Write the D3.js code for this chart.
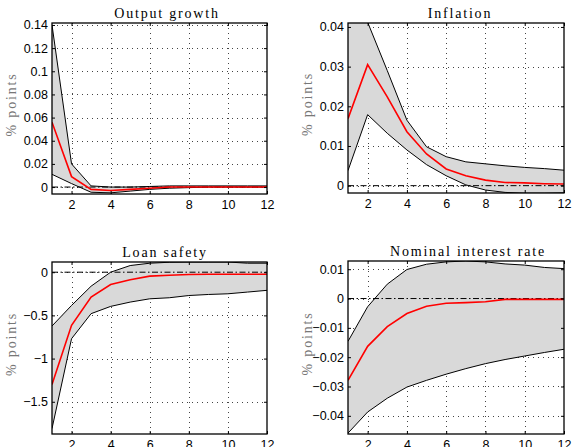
<!DOCTYPE html>
<html><head><meta charset="utf-8">
<script src="https://cdn.jsdelivr.net/npm/d3@7"></script>
<style>body{margin:0;background:#fff}svg{display:block}</style>
</head><body>
<svg id="c" width="573" height="447"></svg>
<script>
const horizon = [1,2,3,4,5,6,7,8,9,10,11,12];
const xTicks = [2,4,6,8,10,12];

const titles = ["Output growth","Inflation","Loan safety","Nominal interest rate"];

// Output growth
const outMean  = [0.056,0.009,-0.002,-0.003,-0.002,-0.001,0,0,0,0,0,0];
const outUpper = [0.140,0.020,0.001,0,0,0.0005,0.001,0.001,0.001,0.001,0.001,0.001];
const outLower = [0.011,0.003,-0.0045,-0.005,-0.0035,-0.002,-0.001,-0.0005,0,0,0,0];
const outTicks = [0,0.02,0.04,0.06,0.08,0.1,0.12,0.14];
const outTickLabels = ["0","0.02","0.04","0.06","0.08","0.1","0.12","0.14"];

// Inflation
const infMean  = [0.0169,0.0305,0.0224,0.0136,0.008,0.0042,0.0025,0.0014,0.0008,0.0007,0.0005,0.0004];
const infUpper = [0.052,0.0412,0.029,0.0165,0.0098,0.0073,0.006,0.0055,0.005,0.0046,0.0043,0.0039];
const infLower = [0.0038,0.0179,0.0132,0.009,0.0053,0.0025,0.0002,-0.0011,-0.0017,-0.0019,-0.0019,-0.0018];
const infTicks = [0,0.01,0.02,0.03,0.04];
const infTickLabels = ["0","0.01","0.02","0.03","0.04"];

// Loan safety
const loanMean  = [-1.30,-0.615,-0.288,-0.142,-0.088,-0.046,-0.035,-0.027,-0.023,-0.023,-0.023,-0.023];
const loanUpper = [-0.623,-0.385,-0.162,0,0.077,0.104,0.115,0.118,0.118,0.118,0.104,0.104];
const loanLower = [-1.81,-0.77,-0.48,-0.396,-0.346,-0.308,-0.296,-0.27,-0.258,-0.25,-0.23,-0.21];
const loanTicks = [-1.5,-1,-0.5,0];
const loanTickLabels = ["\u22121.5","\u22121","\u22120.5","0"];

// Nominal interest rate
const rateMean  = [-0.0279,-0.0163,-0.0096,-0.0051,-0.0026,-0.0016,-0.0014,-0.0011,-0.0003,-0.0003,-0.0003,-0.0003];
const rateUpper = [-0.0146,-0.0028,0.0049,0.0099,0.0117,0.0125,0.0128,0.0125,0.0118,0.0114,0.0106,0.0102];
const rateLower = [-0.0459,-0.0387,-0.034,-0.0302,-0.0279,-0.0258,-0.0239,-0.0222,-0.0208,-0.0196,-0.0184,-0.0173];
const rateTicks = [-0.04,-0.03,-0.02,-0.01,0,0.01];
const rateTickLabels = ["\u22120.04","\u22120.03","\u22120.02","\u22120.01","0","0.01"];

const panels = [
  {title:titles[0], mean:outMean, up:outUpper, lo:outLower, ticks:outTicks, labels:outTickLabels, dom:[-0.006,0.1417],
   box:{l:52,r:267,t:23,b:194}, tx:167},
  {title:titles[1], mean:infMean, up:infUpper, lo:infLower, ticks:infTicks, labels:infTickLabels, dom:[-0.00185,0.041],
   box:{l:348,r:564,t:23,b:193}, tx:460},
  {title:titles[2], mean:loanMean, up:loanUpper, lo:loanLower, ticks:loanTicks, labels:loanTickLabels, dom:[-1.873,0.118],
   box:{l:52,r:267,t:262,b:434}, tx:165},
  {title:titles[3], mean:rateMean, up:rateUpper, lo:rateLower, ticks:rateTicks, labels:rateTickLabels, dom:[-0.0462,0.0128],
   box:{l:348,r:564,t:261,b:434}, tx:468}
];

const svg = d3.select("#c");
panels.forEach((p,i)=>{
  const B = p.box;
  const x = d3.scaleLinear().domain([1,12]).range([B.l,B.r]);
  const y = d3.scaleLinear().domain(p.dom).range([B.b,B.t]);
  const g = svg.append("g");
  const cid = "clip"+i;
  svg.append("clipPath").attr("id",cid).append("rect")
    .attr("x",B.l).attr("y",B.t).attr("width",B.r-B.l).attr("height",B.b-B.t);

  // grid
  const grid = g.append("g").attr("stroke","#444").attr("stroke-width",1).attr("stroke-dasharray","1,4");
  xTicks.filter(t=>t<12).forEach(t=>grid.append("line").attr("x1",Math.round(x(t))+0.5).attr("x2",Math.round(x(t))+0.5).attr("y1",B.t).attr("y2",B.b));
  p.ticks.forEach(t=>grid.append("line").attr("x1",B.l).attr("x2",B.r).attr("y1",Math.round(y(t))+0.5).attr("y2",Math.round(y(t))+0.5));

  const cg = g.append("g").attr("clip-path",`url(#${cid})`);
  const area = d3.area().x((d,j)=>x(horizon[j])).y0((d,j)=>y(p.lo[j])).y1((d,j)=>y(p.up[j]));
  cg.append("path").datum(horizon).attr("d",area).attr("fill","#d9d9d9");
  const line = arr => d3.line().x((d,j)=>x(horizon[j])).y((d,j)=>y(arr[j]))(horizon);
  cg.append("path").attr("d",line(p.up)).attr("fill","none").attr("stroke","#000").attr("stroke-width",1);
  cg.append("path").attr("d",line(p.lo)).attr("fill","none").attr("stroke","#000").attr("stroke-width",1);
  cg.append("line").attr("x1",B.l).attr("x2",B.r).attr("y1",y(0)).attr("y2",y(0))
    .attr("stroke","#000").attr("stroke-width",1).attr("stroke-dasharray","6,2.5,1.5,2.5");
  cg.append("path").attr("d",line(p.mean)).attr("fill","none").attr("stroke","#ff0000").attr("stroke-width",1.6);

  // box
  g.append("rect").attr("x",B.l).attr("y",B.t).attr("width",B.r-B.l).attr("height",B.b-B.t)
    .attr("fill","none").attr("stroke","#000").attr("stroke-width",1.3);

  // axes (ticks inward)
  const xa = d3.axisBottom(x).tickValues(xTicks).tickSize(-3).tickPadding(6).tickFormat(d3.format("d"));
  const ya = d3.axisLeft(y).tickValues(p.ticks).tickSize(-3).tickPadding(4).tickFormat((d,j)=>p.labels[j]);
  const gx = g.append("g").attr("transform",`translate(0,${B.b})`).call(xa);
  const gy = g.append("g").attr("transform",`translate(${B.l},0)`).call(ya);
  [gx,gy].forEach(a=>{
    a.select(".domain").remove();
    a.selectAll("text").attr("font-family","Liberation Sans, Arial, sans-serif").attr("font-size","12.5px").attr("fill","#000");
    a.selectAll("line").attr("stroke","#000");
  });
  // mirrored ticks
  g.append("g").attr("transform",`translate(0,${B.t})`).call(d3.axisTop(x).tickValues(xTicks).tickSize(-3).tickFormat(""))
    .call(a=>a.select(".domain").remove());
  g.append("g").attr("transform",`translate(${B.r},0)`).call(d3.axisRight(y).tickValues(p.ticks).tickSize(-3).tickFormat(""))
    .call(a=>a.select(".domain").remove());

  g.append("text").attr("x",p.tx).attr("y",B.t-5).attr("text-anchor","middle")
    .attr("font-family","Liberation Serif, serif").attr("font-size","14px").attr("letter-spacing","1.8px")
    .attr("fill","#000").text(p.title);
  const cx = i%2===0 ? 16 : 312;
  const cy = (B.t+B.b)/2 - 4;
  g.append("text").attr("transform",`translate(${cx},${cy}) rotate(-90)`).attr("text-anchor","middle")
    .attr("font-family","Liberation Serif, serif").attr("font-size","14px").attr("letter-spacing","1.8px")
    .attr("fill","#777").text("% points");
});
</script>
</body></html>
